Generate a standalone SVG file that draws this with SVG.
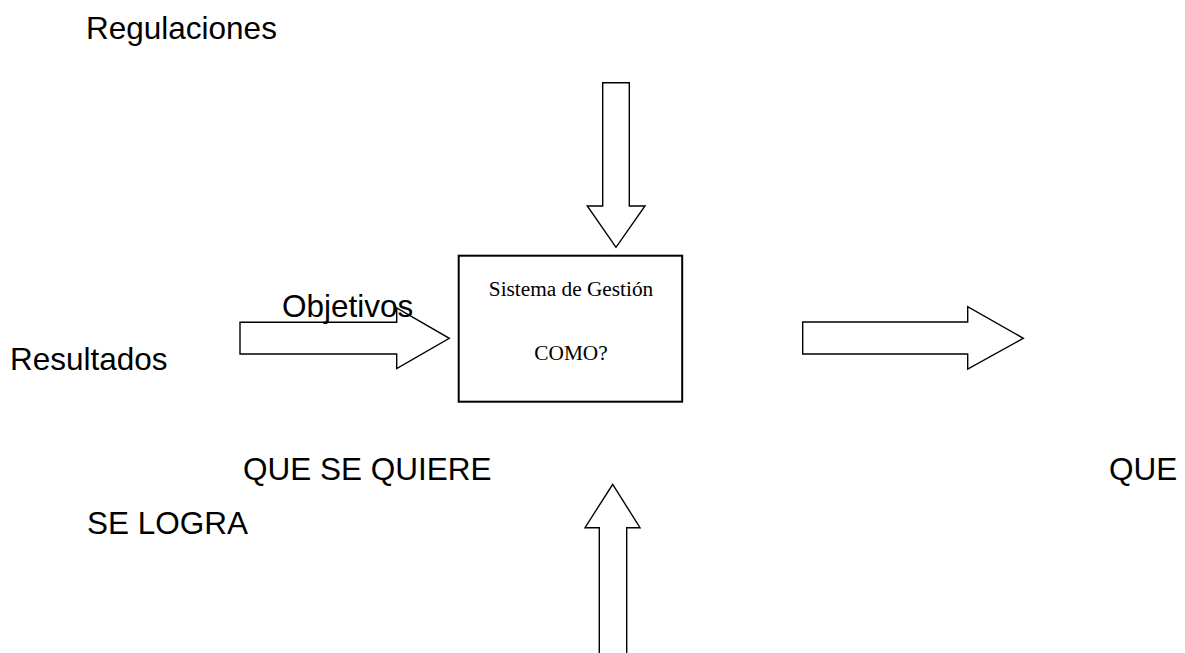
<svg xmlns="http://www.w3.org/2000/svg" width="1185" height="653" viewBox="0 0 1185 653">
  <style>
    .arrow { fill: #ffffff; stroke: #000000; stroke-width: 1.4; stroke-linejoin: miter; }
    .box { fill: #ffffff; stroke: #000000; stroke-width: 2; }
    .label { font-family: "Liberation Sans", Arial, sans-serif; font-size: 31.5px; fill: #000000; }
    .inner { font-family: "Liberation Serif", "Times New Roman", serif; font-size: 21.3px; fill: #000000; text-anchor: middle; }
  </style>
  <rect width="1185" height="653" fill="#ffffff"/>

  <!-- block arrows feeding into and out of the management system -->
  <g id="connectors">
    <path id="arrow-top" class="arrow" d="M602.7,82.7 H629.3 V206 H645 L616,247.3 L587.3,206 H602.7 Z"/>
    <path id="arrow-left" class="arrow" d="M240,322.3 H396.7 V308 L449.3,338.3 L396.7,368.5 V354 H240 Z"/>
    <path id="arrow-right" class="arrow" d="M802.7,322 H967.7 V306.7 L1023.3,338.3 L967.7,369 V354 H802.7 Z"/>
    <path id="arrow-bottom" class="arrow" d="M612.7,484.3 L640,527.7 H626.7 V660 H599.3 V527.7 H585 Z"/>
  </g>

  <!-- central process box -->
  <g id="sistema">
    <rect class="box" x="458.7" y="255.7" width="223.5" height="146"/>
    <text class="inner" x="571" y="296">Sistema de Gestión</text>
    <text class="inner" x="571" y="360">COMO?</text>
  </g>

  <g id="regulaciones">
    <text class="label" x="86" y="39">Regulaciones</text>
  </g>
  <g id="objetivos">
    <text class="label" x="282" y="317">Objetivos</text>
  </g>
  <g id="resultados">
    <text class="label" x="10" y="370">Resultados</text>
  </g>
  <g id="que-se-quiere">
    <text class="label" x="243" y="480">QUE SE QUIERE</text>
  </g>
  <g id="que-se-logra">
    <text class="label" x="1109" y="480">QUE</text>
    <text class="label" x="87" y="534">SE LOGRA</text>
  </g>
</svg>
